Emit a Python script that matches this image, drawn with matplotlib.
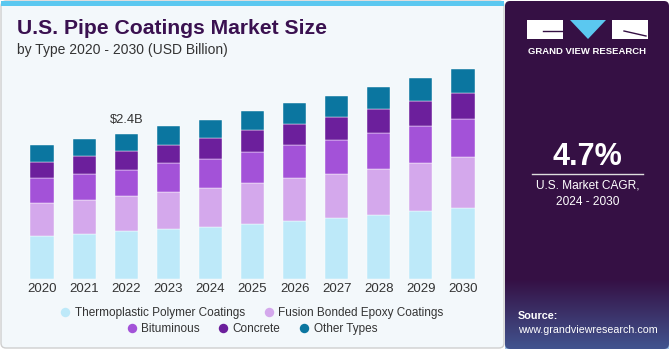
import matplotlib.pyplot as plt
import numpy as np
from matplotlib.patches import FancyBboxPatch, Rectangle, Polygon
from matplotlib.lines import Line2D

plt.rcParams['font.family'] = ['Liberation Sans', 'DejaVu Sans']

years = ['2020', '2021', '2022', '2023', '2024', '2025', '2026', '2027', '2028', '2029', '2030']
series = ['Thermoplastic Polymer Coatings', 'Fusion Bonded Epoxy Coatings',
          'Bituminous', 'Concrete', 'Other Types']
thermoplastic = [0.71, 0.745, 0.785, 0.82, 0.86, 0.905, 0.955, 1.00, 1.05, 1.11, 1.17]
fusion_epoxy = [0.54, 0.56, 0.575, 0.61, 0.63, 0.67, 0.70, 0.72, 0.76, 0.79, 0.83]
bituminous = [0.41, 0.42, 0.44, 0.47, 0.49, 0.51, 0.54, 0.56, 0.59, 0.61, 0.625]
concrete = [0.26, 0.30, 0.30, 0.31, 0.33, 0.36, 0.36, 0.38, 0.39, 0.41, 0.43]
other = [0.28, 0.27, 0.29, 0.31, 0.31, 0.31, 0.33, 0.35, 0.37, 0.38, 0.40]
colors = ['#BDE9F9', '#D4A8EC', '#A352D8', '#6C1F9C', '#0B76A0']
label_year = '2022'
label_text = '$2.4B'

W, H = 670, 350
fig = plt.figure(figsize=(W / 100, H / 100), dpi=100)

# background drawn in pixel coordinates
bg = fig.add_axes([0, 0, 1, 1], zorder=0)
bg.set_xlim(0, W)
bg.set_ylim(H, 0)
bg.axis('off')
bg.add_patch(FancyBboxPatch((1, 1), 503, 347, boxstyle='round,pad=0,rounding_size=5',
                            fc='#F3F8FB', ec='#CFCFCF', lw=1))
bg.add_patch(Rectangle((1, 1), 503, 5, fc='#5BC8F0', ec='none'))
bg.add_patch(FancyBboxPatch((505, 1), 164, 348, boxstyle='round,pad=0,rounding_size=5',
                            fc='#351044', ec='none'))
# bluish glow at the bottom of the side panel
grad = np.zeros((70, 1, 4))
grad[:, 0, 0] = 0.30
grad[:, 0, 1] = 0.55
grad[:, 0, 2] = 0.80
grad[:, 0, 3] = np.linspace(0, 0.55, 70)
bg.imshow(grad, extent=[505, 669, 349, 279], aspect='auto', zorder=1)

bg.text(17, 29, 'U.S. Pipe Coatings Market Size', fontsize=15.2, fontweight='bold',
        color='#3A1150', va='center', ha='left')
bg.text(17, 50, 'by Type 2020 - 2030 (USD Billion)', fontsize=10, color='#333333',
        va='center', ha='left')

# logo
bg.add_patch(Rectangle((527, 20), 36, 19, fc='white', ec='none', zorder=2))
bg.add_patch(Polygon([[570, 20], [606, 20], [588, 39]], closed=True, fc='#5BC8F0', ec='none', zorder=2))
bg.add_patch(Rectangle((612, 20), 36, 19, fc='white', ec='none', zorder=2))
bg.plot([543, 563], [31, 31], color='#351044', lw=1, zorder=3)
bg.plot([624, 646], [31, 36], color='#351044', lw=1, zorder=3)
bg.text(587.5, 51, 'GRAND VIEW RESEARCH', fontsize=6.8, fontweight='bold', color='white',
        ha='center', va='center')

bg.text(587.5, 157, '4.7%', fontsize=22, fontweight='bold', color='white', ha='center', va='center')
bg.plot([532, 643], [174, 174], color='#DDDDDD', lw=1)
bg.text(587.5, 186, 'U.S. Market CAGR,', fontsize=8.6, color='white', ha='center', va='center')
bg.text(587.5, 202, '2024 - 2030', fontsize=8.6, color='white', ha='center', va='center')
bg.text(518, 316, 'Source:', fontsize=7.8, fontweight='bold', color='white', ha='left', va='center')
bg.text(518, 330, 'www.grandviewresearch.com', fontsize=7.7, color='white', ha='left', va='center')

# stacked bars
ax = fig.add_axes([21 / W, 71 / H, 463 / W, 219 / H], zorder=2)
ax.patch.set_alpha(0)
x = np.arange(len(years))
bottom = np.zeros(len(years))
for name, vals, c in zip(series, [thermoplastic, fusion_epoxy, bituminous, concrete, other], colors):
    ax.bar(x, vals, width=0.55, bottom=bottom, color=c, label=name,
           edgecolor='white', linewidth=0.3)
    bottom += np.array(vals)

i = years.index(label_year)
ax.text(x[i], bottom[i] + 0.13, label_text, ha='center', va='bottom', fontsize=9.3, color='#333333')

ax.set_xlim(-0.5, len(years) - 0.5)
ax.set_ylim(0, 3.6)
ax.set_xticks(x)
ax.set_xticklabels(years, fontsize=9.5, color='#333333')
ax.tick_params(axis='x', length=0, pad=3)
ax.set_yticks([])
for s in ax.spines.values():
    s.set_visible(False)

handles = [Line2D([], [], marker='o', linestyle='none', markersize=6.8,
                  markerfacecolor=c, markeredgecolor='none') for c in colors]
leg1 = fig.legend(handles[:2], series[:2], loc='center', bbox_to_anchor=(252 / W, 1 - 312.7 / H),
                  ncol=2, frameon=False, fontsize=8.5, handlelength=0.8, handletextpad=0.4,
                  columnspacing=1.6, labelcolor='#333333')
leg2 = fig.legend(handles[2:], series[2:], loc='center', bbox_to_anchor=(252 / W, 1 - 328.7 / H),
                  ncol=3, frameon=False, fontsize=8.5, handlelength=0.8, handletextpad=0.4,
                  columnspacing=1.6, labelcolor='#333333')

fig.savefig('out.png', dpi=100)
